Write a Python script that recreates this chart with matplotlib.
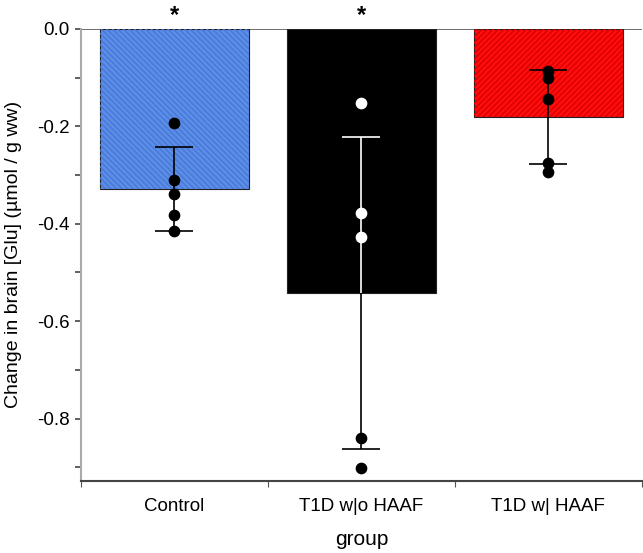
import matplotlib
matplotlib.use('Agg')
import matplotlib.pyplot as plt
import numpy as np

#===========data===========
groups = ["Control", "T1D w|o HAAF", "T1D w| HAAF"]
means = [-0.329, -0.543, -0.181]
sems = [0.086, 0.320, 0.097]
points = [
    [-0.194, -0.310, -0.338, -0.383, -0.415],
    [-0.153, -0.378, -0.427, -0.840, -0.902],
    [-0.087, -0.102, -0.145, -0.275, -0.294],
]
fills = ["#5b8ee8", "#000000", "#ff0d0d"]
hatch_colors = ["#4878d4", "#000000", "#d80000"]
hatches = ["\\\\\\\\\\\\", "", "//////"]
stars = [True, True, False]

plt.rcParams['font.family'] = ['Liberation Sans', 'DejaVu Sans']

fig = plt.figure(figsize=(6.43, 5.53), dpi=100)
ax = fig.add_axes([0.126, 0.130, 0.872, 0.818])

x = np.arange(len(groups))
width = 0.8

bars = ax.bar(x, means, width=width, color=fills, edgecolor="#222222", linewidth=0.8, zorder=2)
ax.bar(x, means, width=width, color="none", edgecolor=hatch_colors, linewidth=0, hatch=hatches, zorder=2.1)

for i in range(len(groups)):
    ax.errorbar(x[i], means[i], yerr=sems[i], fmt="none", ecolor="black", elinewidth=1.2,
                capsize=14, capthick=1.2, zorder=3)
    # white part inside the black bar
    if fills[i] == "#000000":
        eb = ax.errorbar(x[i], means[i], yerr=sems[i], fmt="none", ecolor="white", elinewidth=1.2,
                         capsize=14, capthick=1.2, zorder=3.1)
        for art in eb.lines[1] + eb.lines[2]:
            art.set_clip_path(bars[i])
    ys = np.array(points[i])
    if fills[i] == "#000000":
        inside = ys > means[i]
        ax.scatter(np.full(inside.sum(), x[i]), ys[inside], s=55, color="white", zorder=4)
        ax.scatter(np.full((~inside).sum(), x[i]), ys[~inside], s=55, color="black", zorder=4)
    else:
        ax.scatter(np.full(len(ys), x[i]), ys, s=55, color="black", zorder=4)
    if stars[i]:
        ax.text(x[i], 0.028, "*", ha="center", va="center", fontsize=17, fontweight="bold",
                clip_on=False)

ax.axhline(0, color="#555555", linewidth=1.2, zorder=1)

ax.set_xlim(-0.5, 2.5)
ax.set_ylim(-0.928, 0.0)

ax.set_xticks([-0.5, 0.5, 1.5, 2.5])
ax.set_xticklabels([])
ax.set_xticks(x, minor=True)
ax.set_xticklabels(groups, minor=True, fontsize=13.5)
ax.tick_params(axis="x", which="minor", length=0, pad=12)
ax.tick_params(axis="x", which="major", length=4, direction="out", color="#555555")

ax.set_yticks([0.0, -0.2, -0.4, -0.6, -0.8])
ax.set_yticklabels(["0.0", "-0.2", "-0.4", "-0.6", "-0.8"], fontsize=13.5)
ax.set_yticks([-0.1, -0.3, -0.5, -0.7, -0.9], minor=True)
ax.tick_params(axis="y", which="both", length=4, direction="out", color="#444444", width=1.2, pad=4)

for side in ["top", "right"]:
    ax.spines[side].set_visible(False)
ax.spines["left"].set_color("#aaaaaa")
ax.spines["left"].set_linewidth(1.5)
ax.spines["bottom"].set_color("#444444")
ax.spines["bottom"].set_linewidth(1.5)

ax.set_ylabel("Change in brain [Glu] (\u00b5mol / g ww)", fontsize=14)
ax.yaxis.set_label_coords(-0.105, 0.5)
ax.set_xlabel("group", fontsize=15)
ax.xaxis.set_label_coords(0.5, -0.108)

fig.savefig("out.png", dpi=100)
